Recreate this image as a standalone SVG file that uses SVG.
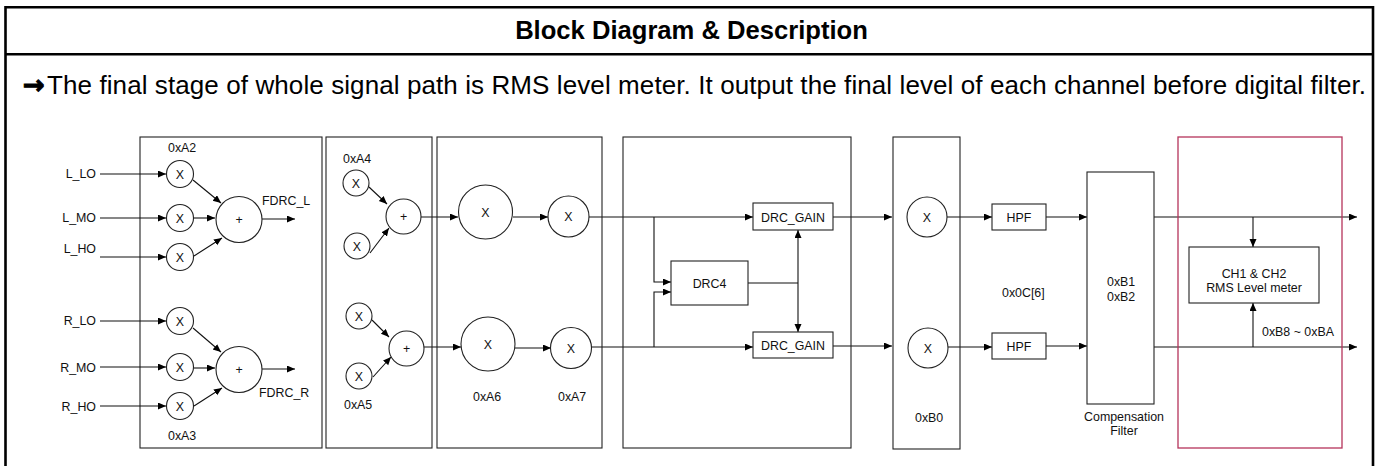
<svg xmlns="http://www.w3.org/2000/svg" width="1378" height="466" viewBox="0 0 1378 466">
<defs>
<marker id="ah" markerUnits="userSpaceOnUse" markerWidth="9" markerHeight="8" refX="8" refY="3.5" orient="auto">
<path d="M0,0 L8,3.5 L0,7 z" fill="#000"/>
</marker>
<style>
.fr{fill:none;stroke:#000;stroke-width:2.6}
.bx{fill:#fff;stroke:#222;stroke-width:1.1}
.ci{fill:#fff;stroke:#222;stroke-width:1.1}
.red{fill:none;stroke:#b5345b;stroke-width:1.3}
.ln{fill:none;stroke:#111;stroke-width:1.1}
.ar{fill:none;stroke:#111;stroke-width:1.1;marker-end:url(#ah)}
text{font-family:"Liberation Sans",Arial,sans-serif;fill:#111}
.t{font-size:12.4px}
.m{text-anchor:middle}
.e{text-anchor:end}
.ttl{font-size:25.6px;font-weight:bold;text-anchor:middle;fill:#000}
.desc{font-size:26px;fill:#000}
</style>
</defs>
<rect width="1378" height="466" fill="#fff"/>
<g id="frame">
<path class="fr" d="M5.5,466 V7.3 H1373 V466"/>
<path class="fr" d="M5.5,54.3 H1373"/>
<text class="ttl" x="691.5" y="39">Block Diagram &amp; Description</text>
<text class="desc" x="23" y="94" style="font-family:'DejaVu Sans',sans-serif;font-weight:bold;font-size:26px;stroke:#000;stroke-width:1">→</text>
<text class="desc" x="47" y="94" textLength="1319" lengthAdjust="spacing">The final stage of whole signal path is RMS level meter. It output the final level of each channel before digital filter.</text>
</g>
<g id="stage1">
<rect class="bx" x="140" y="137" width="182" height="311"/>
<text class="t" x="168" y="152">0xA2</text>
<text class="t" x="168" y="440">0xA3</text>
<text class="t" x="262" y="205">FDRC_L</text>
<text class="t" x="259" y="397">FDRC_R</text>
</g>
<g id="inputs">
<text class="t e" x="96" y="178">L_LO</text>
<text class="t e" x="96" y="222">L_MO</text>
<text class="t e" x="96" y="253">L_HO</text>
<text class="t e" x="96" y="325">R_LO</text>
<text class="t e" x="96" y="372">R_MO</text>
<text class="t e" x="96" y="411">R_HO</text>
</g>
<g id="connectors">
<path class="ar" d="M100,174 H166"/>
<path class="ar" d="M100,218 H166"/>
<path class="ar" d="M100,257 H166"/>
<path class="ar" d="M100,321 H166"/>
<path class="ar" d="M100,367 H166"/>
<path class="ar" d="M100,406 H166"/>
<path class="ar" d="M193,180 L221,203"/>
<path class="ar" d="M193.5,218 H215"/>
<path class="ar" d="M194,256 L222,238"/>
<path class="ar" d="M193,328 L221,352"/>
<path class="ar" d="M193.5,368 H215"/>
<path class="ar" d="M194,406 L222,388"/>
<path class="ar" d="M262,219 H295"/>
<path class="ar" d="M262,369 H295"/>
<path class="ar" d="M369,187 L387,204"/>
<path class="ar" d="M370,253 L389,228"/>
<path class="ar" d="M372,320 L389,337"/>
<path class="ar" d="M373,377 L391,357"/>
<path class="ar" d="M421,217 H458"/>
<path class="ar" d="M424,347 H461"/>
<path class="ar" d="M513,217 H548"/>
<path class="ar" d="M515,348 H551"/>
<path class="ar" d="M589,217 H753"/>
<path class="ar" d="M591,347 H753"/>
<path class="ar" d="M654,217 V282 H671"/>
<path class="ar" d="M654,347 V292 H671"/>
<path class="ln" d="M748,283 H798"/>
<path class="ar" d="M798,283 V230"/>
<path class="ar" d="M798,283 V332"/>
<path class="ar" d="M833,217 H892"/>
<path class="ar" d="M833,346 H892"/>
<path class="ar" d="M947,217 H992"/>
<path class="ar" d="M948,347 H992"/>
<path class="ar" d="M1046,217 H1087"/>
<path class="ar" d="M1046,346 H1087"/>
<path class="ar" d="M1154,217 H1357"/>
<path class="ar" d="M1154,347 H1357"/>
<path class="ar" d="M1253,217 V247"/>
<path class="ar" d="M1253,347 V303"/>
</g>
<g id="mulL">
<circle class="ci" cx="180" cy="174" r="13.5"/><text class="t m" x="180" y="178.5">X</text>
<circle class="ci" cx="180" cy="218" r="13.5"/><text class="t m" x="180" y="222.5">X</text>
<circle class="ci" cx="180" cy="257" r="13.5"/><text class="t m" x="180" y="261.5">X</text>
</g>
<g id="sumL"><circle class="ci" cx="239" cy="219.5" r="23"/><text class="t m" x="239" y="224">+</text></g>
<g id="mulR">
<circle class="ci" cx="180" cy="321" r="13.5"/><text class="t m" x="180" y="325.5">X</text>
<circle class="ci" cx="180" cy="367" r="13.5"/><text class="t m" x="180" y="371.5">X</text>
<circle class="ci" cx="180" cy="406" r="13.5"/><text class="t m" x="180" y="410.5">X</text>
</g>
<g id="sumR"><circle class="ci" cx="239" cy="369.5" r="23"/><text class="t m" x="239" y="374">+</text></g>
<g id="stage2">
<rect class="bx" x="326" y="137" width="106" height="311" style="fill:none"/>
<text class="t" x="343" y="163">0xA4</text>
<text class="t" x="344" y="409">0xA5</text>
<circle class="ci" cx="356" cy="183" r="13"/><text class="t m" x="356" y="187.5">X</text>
<circle class="ci" cx="357" cy="246" r="13"/><text class="t m" x="357" y="250.5">X</text>
<circle class="ci" cx="403.5" cy="216.5" r="17.5"/><text class="t m" x="403.5" y="221">+</text>
<circle class="ci" cx="359" cy="316" r="13"/><text class="t m" x="359" y="320.5">X</text>
<circle class="ci" cx="359" cy="376" r="13"/><text class="t m" x="359" y="380.5">X</text>
<circle class="ci" cx="406.5" cy="348.5" r="17.5"/><text class="t m" x="406.5" y="353">+</text>
</g>
<g id="stage3">
<rect class="bx" x="437" y="137" width="165" height="311" style="fill:none"/>
<circle class="ci" cx="485.5" cy="212" r="27"/><text class="t m" x="485.5" y="216.5">X</text>
<circle class="ci" cx="568.5" cy="216.5" r="20.5"/><text class="t m" x="568.5" y="221">X</text>
<circle class="ci" cx="488" cy="344" r="27"/><text class="t m" x="488" y="348.5">X</text>
<circle class="ci" cx="571" cy="348" r="20.5"/><text class="t m" x="571" y="352.5">X</text>
<text class="t" x="473" y="401">0xA6</text>
<text class="t" x="558" y="401">0xA7</text>
</g>
<g id="stage4">
<rect class="bx" x="623" y="137" width="228" height="311" style="fill:none"/>
</g>
<g id="drc4"><rect class="bx" x="671" y="261" width="77" height="44"/><text class="t m" x="709.5" y="287.5">DRC4</text></g>
<g id="drcgain1"><rect class="bx" x="753" y="203" width="80" height="27"/><text class="t m" x="793" y="221.5">DRC_GAIN</text></g>
<g id="drcgain2"><rect class="bx" x="753" y="332" width="80" height="26"/><text class="t m" x="793" y="350">DRC_GAIN</text></g>
<g id="stage5">
<rect class="bx" x="893" y="137" width="67" height="312" style="fill:none"/>
<circle class="ci" cx="927" cy="217" r="20"/><text class="t m" x="927" y="221.5">X</text>
<circle class="ci" cx="928" cy="348" r="20"/><text class="t m" x="928" y="352.5">X</text>
<text class="t" x="915" y="422">0xB0</text>
</g>
<g id="hpf1"><rect class="bx" x="992" y="204" width="54" height="26"/><text class="t m" x="1019" y="221.5">HPF</text></g>
<g id="hpf2"><rect class="bx" x="992" y="333" width="54" height="26"/><text class="t m" x="1019" y="350.5">HPF</text></g>
<text class="t" x="1002" y="297">0x0C[6]</text>
<g id="compfilter">
<rect class="bx" x="1087" y="172" width="67" height="232"/>
<text class="t" x="1107" y="286">0xB1</text>
<text class="t" x="1107" y="301">0xB2</text>
<text class="t m" x="1124" y="421">Compensation</text>
<text class="t m" x="1124" y="435">Filter</text>
</g>
<g id="rmsstage">
<rect class="red" x="1178" y="137" width="164" height="311"/>
</g>
<g id="rms">
<rect class="bx" x="1189" y="247" width="130" height="56"/>
<text class="t m" x="1254" y="278">CH1 &amp; CH2</text>
<text class="t m" x="1254" y="292">RMS Level meter</text>
<text class="t" x="1262" y="336">0xB8 ~ 0xBA</text>
</g>
</svg>
